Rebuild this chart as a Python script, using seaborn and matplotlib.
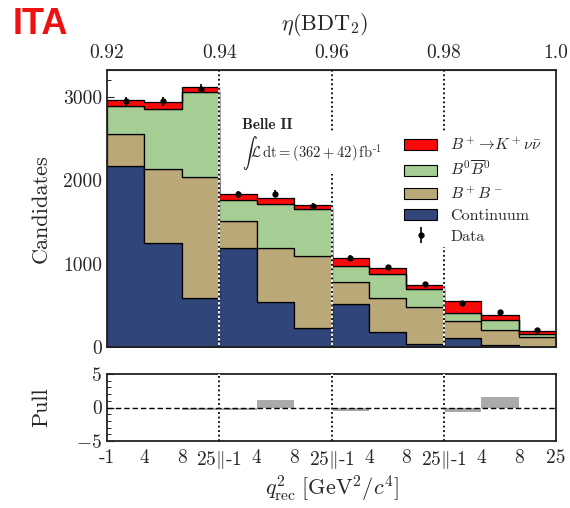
import numpy as np
import pandas as pd
import matplotlib
matplotlib.use("Agg")
import matplotlib.pyplot as plt
import seaborn as sns
from matplotlib.patches import Patch
from matplotlib.ticker import MultipleLocator

# ---------------- data ----------------
bin_index = list(range(12))
q2_tick_labels = ["-1", "4", "8", r"25$\|$-1", "4", "8", r"25$\|$-1", "4", "8", r"25$\|$-1", "4", "8", "25"]
eta_tick_labels = ["0.92", "0.94", "0.96", "0.98", "1.0"]

continuum = [2172, 1245, 587, 1185, 542, 233, 514, 181, 40, 112, 20, 5]
bplus_bminus = [382, 884, 1445, 321, 643, 863, 261, 406, 442, 201, 189, 115]
b0_b0bar = [330, 726, 1024, 261, 526, 555, 201, 289, 213, 93, 112, 41]
signal = [80, 80, 60, 72, 76, 48, 92, 72, 52, 140, 61, 32]
data = [2943, 2943, 3096, 1831, 1839, 1687, 1064, 956, 755, 526, 422, 201]
data_err = [54, 54, 56, 43, 43, 41, 33, 31, 27, 23, 21, 14]
pull = [0.0, 0.0, -0.35, -0.35, 1.15, 0.0, -0.45, 0.0, 0.0, -0.7, 1.55, 0.0]

names = ["Continuum", "B+B-", "B0B0", "Signal"]
colors = {"Continuum": "#30457a", "B+B-": "#bba878", "B0B0": "#a6cd94", "Signal": "#f80a0a"}
labels = {"Signal": r"$B^+\!\rightarrow\! K^+\nu\bar{\nu}$",
          "B0B0": r"$B^0\overline{B}{}^0$",
          "B+B-": r"$B^+B^-$",
          "Continuum": "Continuum"}

rows = []
for name, vals in zip(names, [continuum, bplus_bminus, b0_b0bar, signal]):
    for i, v in zip(bin_index, vals):
        rows.append({"x": i + 0.5, "w": v, "comp": name})
df = pd.DataFrame(rows)

# ---------------- style ----------------
sns.set_style("white")
plt.rcParams["font.family"] = ["cmr10", "DejaVu Serif"]
plt.rcParams["mathtext.fontset"] = "cm"
plt.rcParams["axes.formatter.use_mathtext"] = True
plt.rcParams["axes.unicode_minus"] = True

fig = plt.figure(figsize=(5.70, 5.08), dpi=100)
ax = fig.add_axes([107 / 570, 1 - 347 / 508, 449 / 570, 277 / 508])
axp = fig.add_axes([107 / 570, 1 - 441 / 508, 449 / 570, 67 / 508])

edges = list(range(13))
sns.histplot(data=df, x="x", weights="w", hue="comp", hue_order=names[::-1],
             multiple="stack", element="step", bins=12, binrange=(0, 12), palette=colors,
             alpha=1, edgecolor="black", linewidth=0.9, legend=False, ax=ax)

ax.errorbar([i + 0.5 for i in bin_index], data, yerr=data_err, fmt="o", color="black",
            markersize=3.5, elinewidth=1.2, capsize=0, zorder=6)

for b in [3, 6, 9]:
    for a in (ax, axp):
        a.axvline(b, color="white", lw=1.3, zorder=4)
        a.axvline(b, color="black", lw=1.3, ls=(0, (1, 1.5)), zorder=5)

ax.set_xlim(0, 12)
ax.set_ylim(0, 3320)
ax.set_xlabel("")
ax.set_ylabel("Candidates", fontsize=16)
ax.yaxis.set_label_coords(-0.125, 0.5)
ax.set_xticks(edges)
ax.set_xticklabels([])
ax.set_yticks([0, 1000, 2000, 3000])
ax.set_yticklabels(["0", "1000", "2000", "3000"])
ax.yaxis.set_minor_locator(MultipleLocator(200))
ax.tick_params(axis="x", which="both", direction="in", length=5, width=0.8, bottom=True, top=False)
ax.tick_params(axis="y", which="major", direction="in", length=5, width=0.8, labelsize=14, left=True)
ax.tick_params(axis="y", which="minor", direction="in", length=3, width=0.7, left=True)

top = ax.secondary_xaxis("top")
top.set_xticks([0, 3, 6, 9, 12])
top.set_xticklabels(eta_tick_labels)
top.tick_params(length=0, labelsize=14, pad=5.5)
fig.text(325 / 570, 1 - 24 / 508, r"$\eta(\mathrm{BDT}_2)$", fontsize=16,
         ha="center", va="center")

ax.text(0.30, 0.80, "Belle II", transform=ax.transAxes, fontsize=11,
        fontfamily="cmb10", ha="left", va="center", zorder=7,
        bbox=dict(facecolor="white", edgecolor="none", pad=1))
ax.text(0.30, 0.70, r"$\int\mathcal{L}\,\mathrm{dt} = (362 + 42)\,\mathrm{fb}^{\text{-}1}$",
        transform=ax.transAxes, fontsize=10.5, ha="left", va="center", zorder=7,
        bbox=dict(facecolor="white", edgecolor="none", pad=1))

handles = [Patch(facecolor=colors[n], edgecolor="black", linewidth=0.8) for n in names[::-1]]
eb = ax.errorbar([], [], yerr=[], fmt="o", color="black", markersize=3.5, elinewidth=1.2)
handles.append(eb)
leg_labels = [labels[n] for n in names[::-1]] + ["Data"]
leg = ax.legend(handles, leg_labels, loc="upper left", bbox_to_anchor=(0.636, 0.80),
                fontsize=11.5, frameon=True, framealpha=1, edgecolor="none",
                handlelength=2.1, handleheight=0.7, labelspacing=0.42, handletextpad=0.8,
                borderpad=0.2, fancybox=False)
leg.set_zorder(8)

for s in ax.spines.values():
    s.set_linewidth(1.3)
    s.set_color("#222222")

# pull panel
centers = [i + 0.5 for i in bin_index]
sns.barplot(x=centers, y=pull, native_scale=True, width=1, color="#aaaaaa",
            linewidth=0, saturation=1, ax=axp)
axp.axhline(0, color="black", lw=1.0, ls=(0, (4, 2)), zorder=3)
axp.set_xlim(0, 12)
axp.set_ylim(-5, 5)
axp.set_xticks(edges)
axp.set_xticklabels(q2_tick_labels, fontsize=14)
axp.set_yticks([-5, 0, 5])
axp.set_yticklabels([r"$-5$", "0", "5"])
axp.yaxis.set_minor_locator(MultipleLocator(1))
axp.tick_params(axis="x", which="both", direction="in", length=5, width=0.8, labelsize=14, pad=6)
axp.tick_params(axis="y", which="major", direction="in", length=5, width=0.8, labelsize=14, left=True)
axp.tick_params(axis="y", which="minor", direction="in", length=3, width=0.7, left=True)
axp.set_ylabel("Pull", fontsize=16)
axp.yaxis.set_label_coords(-0.125, 0.5)
axp.set_xlabel(r"$q^2_{\mathrm{rec}}\;[\mathrm{GeV}^2/c^4]$", fontsize=16, labelpad=2)
for s in axp.spines.values():
    s.set_linewidth(1.3)
    s.set_color("#222222")

fig.text(13 / 570, 1 - 25 / 508, "ITA", color="#ee1111", fontsize=26, fontweight="bold",
         fontfamily="Liberation Sans", ha="left", va="center")

fig.savefig("out.png", dpi=100, facecolor="white")
